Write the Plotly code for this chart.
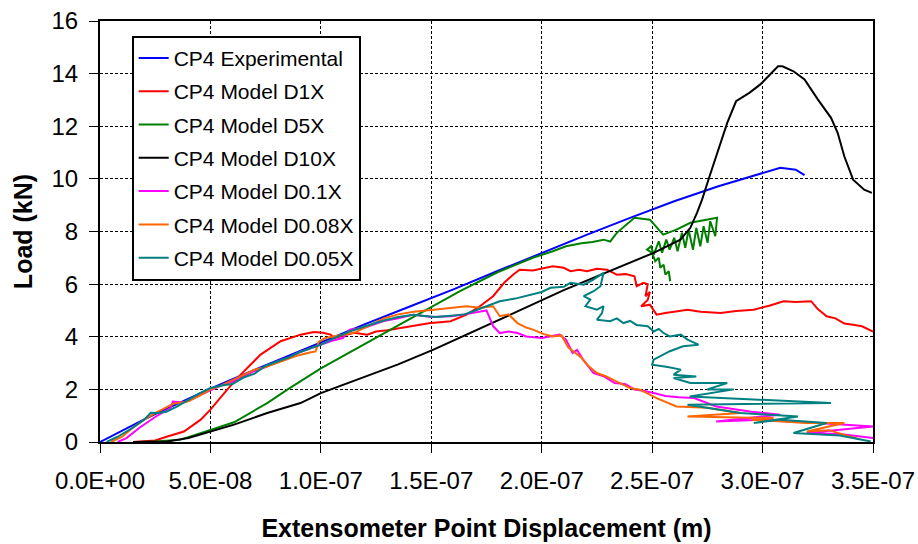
import numpy as np
import plotly.graph_objects as go

X_UNIT = 1e-8  # x values below are in units of 1E-08 m

exp_x = [0, 1, 2, 3, 4, 5, 6, 7, 8, 9, 10, 12, 14, 15, 16, 18, 20, 22, 24, 25, 26, 28, 29, 30, 30.8, 31.5, 31.9]
exp_y = [0, 0.44, 0.86, 1.26, 1.65, 2.03, 2.39, 2.74, 3.1, 3.45, 3.8, 4.48, 5.14, 5.47, 5.8, 6.5, 7.19, 7.86, 8.52, 8.85, 9.15, 9.72, 9.98, 10.23, 10.42, 10.35, 10.14]

d1_x = [1.5, 2.0, 2.5, 3.05, 3.8, 4.56, 5.0, 5.76, 6.37, 7.27,
        8.18, 9.08, 9.68, 10.1, 10.44, 10.6, 11.0, 11.5, 12.1, 12.5,
        13.0, 13.6, 14.2, 14.96, 15.4, 15.87, 16.6, 17.2, 17.8, 18.3,
        18.7, 19.0, 19.6, 20.0, 20.5, 21.0, 21.3, 21.7, 22.05, 22.5,
        22.96, 23.4, 23.8, 24.2, 24.3, 24.6, 24.8, 24.7, 24.9, 24.8,
        24.5, 24.9, 25.2, 25.6, 26.0, 26.6, 27.2, 28.1, 28.8, 29.6,
        30.3, 30.95, 31.5, 32.2, 32.5, 32.9, 33.3, 33.7, 34.1, 34.5, 35.0]
d1_y = [0.0, 0.02, 0.06, 0.21, 0.4, 0.85, 1.23, 1.99, 2.56, 3.32,
        3.83, 4.08, 4.18, 4.15, 4.08, 3.95, 4.05, 4.15, 4.08, 4.2,
        4.25, 4.33, 4.42, 4.52, 4.55, 4.59, 4.84, 5.16, 5.54, 6.05,
        6.36, 6.55, 6.52, 6.6, 6.68, 6.62, 6.49, 6.55, 6.49, 6.58,
        6.55, 6.36, 6.38, 6.3, 5.92, 6.05, 6.0, 5.54, 5.7, 5.4,
        5.16, 5.22, 4.84, 4.9, 4.95, 5.03, 4.95, 4.9, 4.98, 5.03,
        5.18, 5.35, 5.32, 5.35, 5.05, 4.78, 4.7, 4.5, 4.46, 4.4, 4.2]

d5_x = [1.8, 2.5, 3.65, 5.0, 6.07, 7.57, 8.48, 10.0, 11.8, 13.6,
        15.1, 16.3, 18.0, 19.6, 20.5, 21.1, 21.8, 22.3, 22.8, 23.1,
        23.4, 23.9, 24.2, 24.9, 25.5, 26.1, 26.73, 27.94, 27.86, 27.63,
        27.51, 27.33, 27.18, 27.0, 26.85, 26.65, 26.5, 26.35, 26.15, 26.0,
        25.79, 25.64, 25.45, 25.3, 25.07, 24.95, 24.77, 25.0, 25.14, 25.3,
        25.37, 25.52, 25.6, 25.75, 25.82]
d5_y = [0.0, 0.02, 0.09, 0.45, 0.75, 1.48, 1.99, 2.8, 3.64, 4.48,
        5.18, 5.73, 6.45, 7.0, 7.25, 7.44, 7.55, 7.6, 7.69, 7.62,
        7.95, 8.33, 8.52, 8.45, 7.88, 8.07, 8.33, 8.52, 7.82, 8.39,
        7.57, 8.2, 7.44, 8.14, 7.31, 8.07, 7.38, 7.95, 7.25, 7.76,
        7.31, 7.69, 7.19, 7.63, 7.12, 7.44, 7.31, 7.19, 6.87, 7.0,
        6.62, 6.74, 6.36, 6.49, 6.11]

d10_x = [1.5, 2.5, 3.05, 4.0, 5.0, 6.07, 7.57, 9.08, 10.0, 11.8,
         13.5, 15.1, 17.0, 19.0, 21.0, 22.7, 23.56, 25.07, 26.28, 26.73,
         27.03, 27.26, 27.6, 27.9, 28.4, 28.8, 29.4, 29.9, 30.4, 30.7,
         30.9, 31.4, 31.9, 32.5, 33.1, 33.4, 33.7, 34.1, 34.6, 34.95]
d10_y = [0.0, 0.0, 0.02, 0.15, 0.4, 0.66, 1.1, 1.48, 1.86, 2.43,
         2.95, 3.51, 4.25, 5.0, 5.77, 6.36, 6.65, 7.19, 7.69, 8.14,
         8.71, 9.21, 10.1, 10.86, 12.13, 12.95, 13.27, 13.59, 14.03, 14.28,
         14.28, 14.09, 13.78, 13.02, 12.32, 11.75, 10.86, 9.97, 9.59, 9.47]

d01_x = [0.8, 1.2, 1.8, 2.5, 3.2, 3.3, 3.8, 4.5, 5.0, 5.5,
         6.0, 6.5, 7.0, 7.5, 8.0, 8.5, 9.0, 9.5, 10.0, 10.5,
         11.0, 11.3, 12.0, 12.85, 13.5, 14.2, 15.0, 15.9, 16.5, 17.2,
         17.5, 17.6, 17.8, 18.1, 18.5, 18.9, 19.3, 20.0, 20.8, 21.1,
         21.4, 21.6, 21.9, 22.35, 22.8, 23.3, 23.8, 24.2, 24.6, 25.07,
         25.6, 26.2, 26.9, 27.9, 28.4, 29.5, 30.8, 27.9, 30.0, 31.1,
         32.5, 33.7, 35.0, 32.0, 33.5, 35.0]
d01_y = [0.0, 0.15, 0.55, 0.95, 1.3, 1.54, 1.5, 1.78, 1.98, 2.15,
         2.3, 2.5, 2.7, 2.85, 3.05, 3.2, 3.4, 3.55, 3.7, 3.85,
         3.95, 4.27, 4.35, 4.6, 4.7, 4.84, 4.75, 4.78, 4.85, 4.97,
         5.0, 4.8, 4.4, 4.14, 4.2, 4.14, 4.01, 3.95, 4.08, 3.89,
         3.38, 3.5, 3.1, 2.62, 2.5, 2.24, 2.2, 1.99, 1.95, 1.86,
         1.75, 1.7, 1.67, 1.35, 1.29, 1.15, 1.04, 0.78, 0.85, 0.78,
         0.72, 0.66, 0.59, 0.34, 0.3, 0.15]

d008_x = [0.5, 1.0, 1.5, 2.0, 2.5, 3.0, 3.3, 4.0, 4.5, 5.0,
          5.5, 6.0, 6.5, 7.0, 7.5, 8.0, 8.5, 9.0, 9.5, 9.76,
          9.9, 10.2, 10.8, 11.5, 12.0, 12.85, 13.5, 14.2, 15.1, 15.8,
          16.6, 17.2, 17.8, 18.1, 18.5, 18.9, 19.3, 19.6, 20.1, 20.5,
          20.9, 21.2, 21.5, 21.8, 22.1, 22.5, 22.9, 23.4, 24.0, 24.45,
          25.2, 26.1, 27.5, 29.0, 26.6, 30.5, 29.5, 32.0, 33.7, 32.0,
          33.0, 34.4]
d008_y = [0.0, 0.2, 0.55, 0.85, 1.1, 1.3, 1.45, 1.55, 1.75, 2.0,
          2.15, 2.35, 2.55, 2.75, 2.85, 3.0, 3.15, 3.3, 3.4, 3.44,
          3.8, 3.95, 4.05, 4.15, 4.35, 4.7, 4.85, 4.95, 5.03, 5.1,
          5.16, 5.1, 5.16, 4.78, 4.85, 4.52, 4.35, 4.27, 4.1, 4.01,
          4.05, 3.6, 3.4, 3.2, 2.9, 2.62, 2.5, 2.3, 2.05, 1.99,
          1.67, 1.35, 1.3, 1.1, 0.97, 0.91, 0.85, 0.72, 0.72, 0.4,
          0.45, 0.1]

d005_x = [0.3, 0.8, 1.5, 2.0, 2.3, 2.6, 3.0, 3.5, 4.0, 4.5,
          5.0, 5.5, 6.0, 6.5, 7.0, 7.5, 8.0, 8.5, 9.0, 9.5,
          10.0, 10.6, 11.3, 12.0, 12.85, 13.5, 14.2, 14.6, 15.2, 15.9,
          16.5, 16.9, 17.5, 18.1, 18.8, 19.6, 20.0, 20.4, 21.0, 21.3,
          21.9, 22.3, 22.8, 22.66, 22.35, 21.9, 22.2, 21.98, 22.5, 22.8,
          22.73, 22.5, 23.1, 23.4, 23.7, 24.0, 24.3, 24.8, 25.07, 25.3,
          25.5, 25.8, 26.3, 26.6, 27.1, 26.4, 25.8, 25.07, 25.0, 25.7,
          26.3, 25.97, 27.0, 25.97, 26.73, 28.4, 27.5, 28.7, 26.7, 33.1,
          26.6, 29.0, 31.6, 29.6, 30.8, 32.9, 31.4, 33.5, 34.9]
d005_y = [0.0, 0.2, 0.55, 0.85, 1.11, 1.1, 1.15, 1.35, 1.6, 1.85,
          2.05, 2.15, 2.2, 2.45, 2.6, 2.9, 3.05, 3.2, 3.4, 3.55,
          3.7, 3.95, 4.2, 4.4, 4.62, 4.75, 4.84, 4.8, 4.75, 4.8,
          4.85, 4.97, 5.15, 5.35, 5.45, 5.6, 5.7, 5.86, 5.9, 6.05,
          5.98, 6.15, 6.43, 5.92, 5.73, 5.54, 5.41, 5.16, 5.03, 5.16,
          4.9, 4.65, 4.59, 4.7, 4.52, 4.6, 4.45, 4.4, 4.2, 4.3,
          4.15, 4.01, 4.08, 3.89, 3.7, 3.64, 3.45, 3.13, 2.94, 2.85,
          2.75, 2.56, 2.49, 2.43, 2.24, 2.24, 2.0, 2.0, 1.73, 1.48,
          1.42, 1.1, 0.97, 0.72, 0.85, 0.72, 0.34, 0.25, 0.02]

series_names = ["CP4 Experimental", "CP4 Model D1X", "CP4 Model D5X", "CP4 Model D10X",
                "CP4 Model D0.1X", "CP4 Model D0.08X", "CP4 Model D0.05X"]
series_colors = ["#0000FF", "#FF0000", "#008000", "#000000", "#FF00FF", "#FF6600", "#008080"]
series_data = [(exp_x, exp_y), (d1_x, d1_y), (d5_x, d5_y), (d10_x, d10_y),
               (d01_x, d01_y), (d008_x, d008_y), (d005_x, d005_y)]

x_tickvals = [0, 5e-8, 1e-7, 1.5e-7, 2e-7, 2.5e-7, 3e-7, 3.5e-7]
x_ticktext = ["0.0E+00", "5.0E-08", "1.0E-07", "1.5E-07", "2.0E-07", "2.5E-07", "3.0E-07", "3.5E-07"]
y_tickvals = [0, 2, 4, 6, 8, 10, 12, 14, 16]

fig = go.Figure()
for i, (name, color, (xs, ys)) in enumerate(zip(series_names, series_colors, series_data)):
    fig.add_trace(go.Scatter(
        x=np.array(xs) * X_UNIT, y=ys, mode="lines", name=name,
        legendgroup=f"g{i}",
        line=dict(color=color, width=2),
    ))

FONT = "Liberation Sans, Arial, sans-serif"
fig.update_layout(
    width=918, height=544,
    margin=dict(l=100, r=45, t=21, b=102),
    paper_bgcolor="white", plot_bgcolor="white",
    font=dict(family=FONT, color="black"),
    showlegend=True,
    legend=dict(
        x=0.041, y=0.965, xanchor="left", yanchor="top",
        bgcolor="white", bordercolor="black", borderwidth=2,
        font=dict(size=21, family=FONT, color="black"),
        traceorder="grouped", tracegroupgap=3,
        itemwidth=30,
    ),
    xaxis=dict(
        range=[0, 3.5e-7], tickvals=x_tickvals, ticktext=x_ticktext,
        automargin=False,
        showline=True, linecolor="black", linewidth=2, mirror=True,
        ticks="outside", ticklen=9, tickwidth=1, tickcolor="black",
        showgrid=True, gridcolor="black", gridwidth=1, griddash="3px,2px",
        zeroline=False,
        tickfont=dict(size=24, family=FONT),
        ticklabelstandoff=7,
        title=dict(text="<b>Extensometer Point Displacement (m)</b>",
                   font=dict(size=25, family=FONT), standoff=27),
    ),
    yaxis=dict(
        range=[0, 16], tickvals=y_tickvals,
        automargin=False,
        showline=True, linecolor="black", linewidth=2, mirror=True,
        ticks="outside", ticklen=9, tickwidth=1, tickcolor="black",
        showgrid=True, gridcolor="black", gridwidth=1, griddash="3px,2px",
        zeroline=False,
        tickfont=dict(size=24, family=FONT),
        ticklabelstandoff=6,
        title=dict(text="<b>Load (kN)</b>", font=dict(size=25, family=FONT), standoff=12),
    ),
)

fig.write_html("out.html")
